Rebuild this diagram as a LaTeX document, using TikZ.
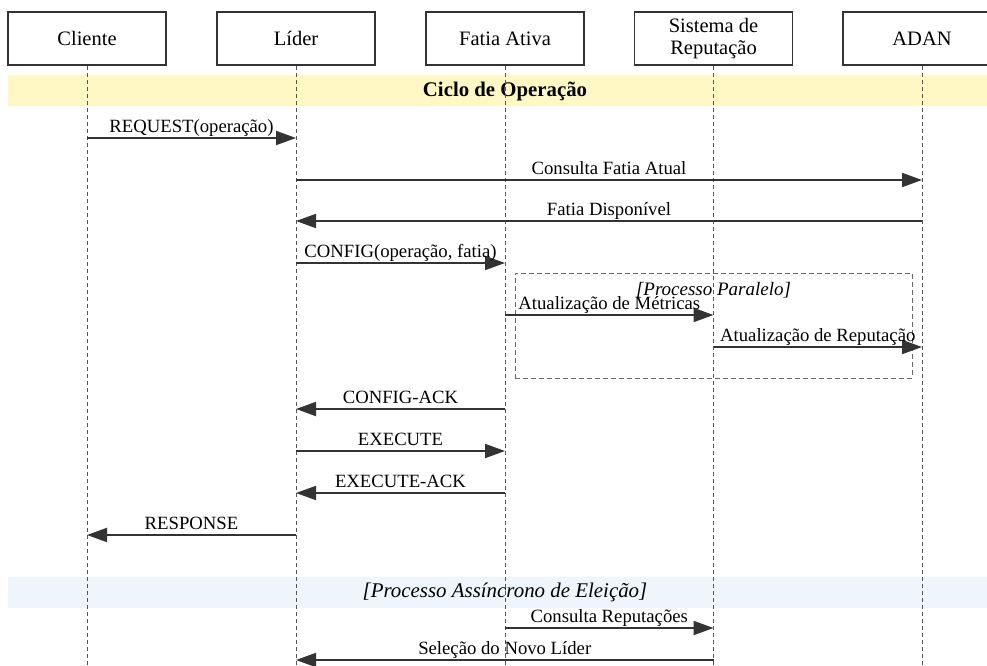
\documentclass[tikz,border=0pt]{standalone}
\usepackage{fontspec}
\setmainfont{Liberation Serif}
\usetikzlibrary{arrows.meta}
\definecolor{ink}{HTML}{333333}
\definecolor{lifegray}{HTML}{555555}
\definecolor{boxgray}{HTML}{666666}
\definecolor{opband}{HTML}{FFF7C4}
\definecolor{elband}{HTML}{EEF5FC}
\begin{document}
\begin{tikzpicture}[x=1pt,y=-1pt,
  actor/.style={draw=ink, line width=1.6pt, fill=white, minimum width=158pt,
    minimum height=53pt, inner sep=0pt, align=center,
    font=\fontsize{20.5}{21.5}\selectfont},
  lifeline/.style={draw=lifegray, line width=0.9pt, dash pattern=on 4pt off 3pt},
  msg/.style={draw=ink, line width=1.9pt, -{Triangle[length=20pt,width=14pt]}},
  lbl/.style={anchor=base, yshift=6pt, inner sep=0pt, font=\fontsize{18.7}{20}\selectfont},
  band/.style={minimum width=993pt, minimum height=31pt, inner sep=0pt, draw=none},
  parbox/.style={draw=boxgray, line width=0.9pt, dash pattern=on 5pt off 3pt,
    minimum width=397pt, minimum height=105pt, inner sep=0pt}]
\useasboundingbox (0,0) rectangle (987,666);
\clip (0,0) rectangle (987,666);

% background bands
\node (opb) [band, fill=opband] at (504.5,91) {};
\node (opt) at (505,91) {\fontsize{20.8}{22}\selectfont\bfseries Ciclo de Operação};
\node (elb) [band, fill=elband] at (504.5,592.5) {};
\node (elt) at (505,592) {\fontsize{20.9}{22}\selectfont\itshape [Processo Assíncrono de Eleição]};

% participants
\node (cli) [actor] at (87,38.5) {Cliente};
\node (lid) [actor] at (296,38.5) {Líder};
\node (fat) [actor] at (505,38.5) {Fatia Ativa};
\node (rep) [actor] at (713.5,38.5) {Sistema de\\Reputação};
\node (adan) [actor] at (922,38.5) {ADAN};

% lifeline ends
\coordinate (cli-e) at (87,666);
\coordinate (lid-e) at (296,666);
\coordinate (fat-e) at (505,666);
\coordinate (rep-e) at (713.5,666);
\coordinate (adan-e) at (922,666);

\draw[lifeline] (cli.south) -- (cli-e);
\draw[lifeline] (lid.south) -- (lid-e);
\draw[lifeline] (fat.south) -- (fat-e);
\draw[lifeline] (rep.south) -- (rep-e);
\draw[lifeline] (adan.south) -- (adan-e);

% parallel fragment
\node (par) [parbox] at (713.5,325.5) {};
\node (part) [anchor=base, inner sep=0pt, font=\fontsize{19}{20}\selectfont\itshape]
  at (713.5,295) {[Processo Paralelo]};

% messages
\draw[msg] (cli |- 0,138) -- (lid |- 0,138) node[lbl, midway] {REQUEST(operação)};
\draw[msg] (lid |- 0,180) -- (adan |- 0,180) node[lbl, midway] {Consulta Fatia Atual};
\draw[msg] (adan |- 0,221) -- (lid |- 0,221) node[lbl, midway] {Fatia Disponível};
\draw[msg] (lid |- 0,263) -- (fat |- 0,263) node[lbl, midway] {CONFIG(operação, fatia)};
\draw[msg] (fat |- 0,315) -- (rep |- 0,315) node[lbl, midway] {Atualização de Métricas};
\draw[msg] (rep |- 0,347) -- (adan |- 0,347) node[lbl, midway] {Atualização de Reputação};
\draw[msg] (fat |- 0,409) -- (lid |- 0,409) node[lbl, midway] {CONFIG-ACK};
\draw[msg] (lid |- 0,451) -- (fat |- 0,451) node[lbl, midway] {EXECUTE};
\draw[msg] (fat |- 0,493) -- (lid |- 0,493) node[lbl, midway] {EXECUTE-ACK};
\draw[msg] (lid |- 0,535) -- (cli |- 0,535) node[lbl, midway] {RESPONSE};
\draw[msg] (fat |- 0,628) -- (rep |- 0,628) node[lbl, midway] {Consulta Reputações};
\draw[msg] (rep |- 0,660) -- (lid |- 0,660) node[lbl, midway] {Seleção do Novo Líder};
\end{tikzpicture}
\end{document}
